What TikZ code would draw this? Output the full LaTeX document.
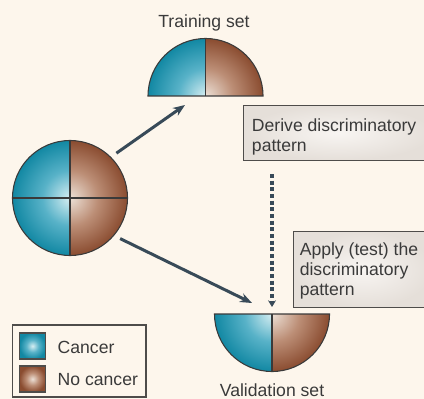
\documentclass[tikz,border=0pt]{standalone}
\usepackage{fontspec}
\setmainfont{Liberation Sans}
\usetikzlibrary{arrows.meta,calc}

\definecolor{paper}{RGB}{253,246,236}
\definecolor{ink}{RGB}{58,58,58}
\definecolor{arrowcol}{RGB}{56,74,88}
\definecolor{boxline}{RGB}{78,76,74}
\definecolor{cancerin}{RGB}{214,238,242}
\definecolor{cancermid}{RGB}{88,178,200}
\definecolor{cancerout}{RGB}{18,136,163}
\definecolor{healthyin}{RGB}{236,224,214}
\definecolor{healthymid}{RGB}{188,142,118}
\definecolor{healthyout}{RGB}{138,76,48}
\definecolor{notein}{RGB}{248,245,242}
\definecolor{noteout}{RGB}{229,223,217}

\pgfdeclareradialshading{cancer}{\pgfpoint{0bp}{0bp}}{color(0bp)=(cancerin); color(12bp)=(cancermid); color(25bp)=(cancerout); color(50bp)=(cancerout)}
\pgfdeclareradialshading{nocancer}{\pgfpoint{0bp}{0bp}}{color(0bp)=(healthyin); color(12bp)=(healthymid); color(25bp)=(healthyout); color(50bp)=(healthyout)}

% one quarter of a sample disc: centre, start angle, shading
\newcommand{\pieslice}[3]{%
  \begin{scope}
    \clip (#1) -- ++(#2:57.5) arc[start angle=#2, delta angle=90, radius=57.5] -- cycle;
    \shade[shading=#3] (#1) circle (57.5);
  \end{scope}}

\tikzset{
  hub/.style={circle, minimum size=86.25pt, outer sep=5.25pt, inner sep=0pt},
  pieline/.style={draw=ink, line width=0.8pt},
  flow/.style={draw=arrowcol, line width=2.25pt, -{Stealth[length=9pt, width=7pt]}},
  testflow/.style={draw=arrowcol, line width=2.4pt, dash pattern=on 3pt off 2pt,
    -{Stealth[length=5pt, width=6pt]}},
  note/.style={draw=boxline, line width=0.8pt, inner color=notein, outer color=noteout,
    anchor=north west, inner sep=0pt},
  notetext/.style={anchor=north west, inner sep=0pt, align=left},
  swatch/.style={draw=boxline, line width=0.8pt, minimum size=19.5pt, inner sep=0pt},
}

\begin{document}
\begin{tikzpicture}[x=0.75pt, y=-0.75pt, font=\fontsize{13.2}{15}\selectfont, text=ink]
    \useasboundingbox (0,0) rectangle (424,399);
    \fill[paper] (0,0) rectangle (424,399);

    % Whole sample
    \node[hub] (pool) at (70,198) {};
    \pieslice{pool.center}{180}{cancer}
    \pieslice{pool.center}{90}{cancer}
    \pieslice{pool.center}{270}{nocancer}
    \pieslice{pool.center}{0}{nocancer}
    \draw[pieline] (pool.center) circle (57.5);
    \draw[pieline] (pool.center) ++(0,-57.5) -- ++(0,115);
    \draw[pieline] (pool.center) ++(-57.5,0) -- ++(115,0);

    % Training set (upper half)
    \coordinate (train) at (205.5,96);
    \pieslice{train}{180}{cancer}
    \pieslice{train}{270}{nocancer}
    \draw[pieline] (train) ++(-57.5,0) arc[start angle=180, delta angle=180, radius=57.5] -- cycle;
    \draw[pieline] (train) -- ++(0,-57.5);
    \node[anchor=base] (trainlbl) at (204,27.3) {Training set};

    % Validation set (lower half)
    \coordinate (valid) at (272,314);
    \pieslice{valid}{90}{cancer}
    \pieslice{valid}{0}{nocancer}
    \draw[pieline] (valid) ++(57.5,0) arc[start angle=0, delta angle=180, radius=57.5] -- cycle;
    \draw[pieline] (valid) -- ++(0,57.5);
    \node[anchor=base] (validlbl) at (272,396) {Validation set};

    % Notes on the right
    \node[note, minimum width=141.75pt, minimum height=41.25pt] (derive) at (243,105) {};
    \node[notetext] (derivetxt) at ([shift={(8.7,13.3)}]derive.north west)
        {Derive discriminatory\\pattern};
    \node[note, minimum width=104.25pt, minimum height=57pt] (apply) at (293,231) {};
    \node[notetext] (applytxt) at ([shift={(6.5,11.4)}]apply.north west)
        {Apply (test) the\\discriminatory\\pattern};

    % Splits and test
    \coordinate (trainin) at ($(train)+(-20.5,9)$);
    \coordinate (validin) at ($(valid)+(-20,-11)$);
    \coordinate (testtop) at ($(derive.south -| valid)+(0,13)$);
    \coordinate (testend) at ($(valid)+(0,-7)$);
    \draw[flow] (pool.44) -- (trainin);
    \draw[flow] (pool.-39.5) -- (validin);
    \draw[testflow] (testtop) -- (testend);

    % Legend
    \draw[boxline, line width=0.8pt] (12.5,325) rectangle (146,397);
    \node[swatch, shading=cancer] (cancerbox) at (32.5,346) {};
    \node[swatch, shading=nocancer] (healthybox) at (32.5,379) {};
    \node[anchor=base west] (cancerkey) at (53,353.3) {Cancer};
    \node[anchor=base west] (healthykey) at (53,385) {No cancer};
\end{tikzpicture}
\end{document}
